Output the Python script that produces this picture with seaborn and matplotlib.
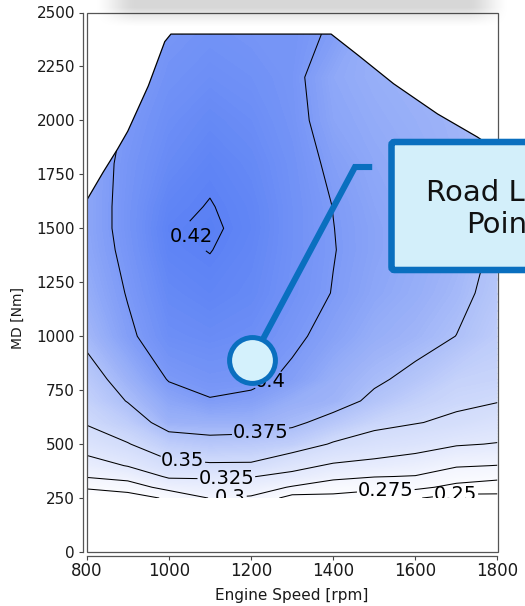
import numpy as np
import matplotlib
matplotlib.use("Agg")
import matplotlib.pyplot as plt
import seaborn as sns
from matplotlib.colors import LinearSegmentedColormap, Normalize
from matplotlib.patches import Polygon, FancyBboxPatch, Rectangle
from matplotlib.transforms import IdentityTransform

# ---------------------------------------------------------------- data
speed_rpm = [800, 900, 1000, 1100, 1200, 1300, 1400, 1500, 1600, 1700, 1800]
torque_nm = [250, 300, 350, 400, 500, 600, 700, 800, 1000, 1200, 1400,
             1500, 1600, 1800, 2000, 2200, 2400]

# brake efficiency along torque_nm, one list per engine speed
eff_800 = [0.253, 0.279, 0.302, 0.315, 0.336, 0.352, 0.359, 0.366, 0.380,
           0.387, 0.391, 0.392, 0.392, 0.392, 0.388, 0.382, 0.376]
eff_900 = [0.262, 0.287, 0.309, 0.326, 0.349, 0.363, 0.376, 0.384, 0.397,
           0.401, 0.404, 0.405, 0.405, 0.404, 0.402, 0.398, 0.394]
eff_1000 = [0.279, 0.309, 0.328, 0.345, 0.363, 0.384, 0.392, 0.401, 0.410,
            0.414, 0.418, 0.4192, 0.4175, 0.413, 0.410, 0.407, 0.404]
eff_1100 = [0.301, 0.314, 0.328, 0.347, 0.368, 0.385, 0.399, 0.405, 0.412,
            0.417, 0.4203, 0.4215, 0.4205, 0.418, 0.414, 0.410, 0.407]
eff_1200 = [0.297, 0.312, 0.326, 0.347, 0.366, 0.385, 0.396, 0.404, 0.410,
            0.414, 0.416, 0.417, 0.4165, 0.414, 0.411, 0.408, 0.405]
eff_1300 = [0.265, 0.298, 0.319, 0.332, 0.362, 0.379, 0.387, 0.397, 0.403,
            0.407, 0.408, 0.408, 0.408, 0.407, 0.405, 0.404, 0.405]
eff_1400 = [0.270, 0.283, 0.308, 0.322, 0.348, 0.368, 0.383, 0.386, 0.395,
            0.3995, 0.4005, 0.4002, 0.3998, 0.397, 0.393, 0.391, 0.398]
eff_1500 = [0.262, 0.281, 0.301, 0.318, 0.340, 0.356, 0.371, 0.378, 0.387,
            0.392, 0.394, 0.394, 0.393, 0.391, 0.389, 0.387, 0.385]
eff_1600 = [0.252, 0.281, 0.299, 0.312, 0.335, 0.351, 0.360, 0.370, 0.382,
            0.387, 0.389, 0.389, 0.389, 0.388, 0.386, 0.384, 0.382]
eff_1700 = [0.240, 0.268, 0.287, 0.302, 0.327, 0.346, 0.354, 0.359, 0.3748,
            0.380, 0.383, 0.384, 0.384, 0.384, 0.383, 0.380, 0.378]
eff_1800 = [0.243, 0.261, 0.282, 0.2995, 0.324, 0.338, 0.351, 0.357, 0.364,
            0.369, 0.372, 0.373, 0.374, 0.376, 0.377, 0.377, 0.376]

# full-load (maximum torque) curve
full_load_rpm = [800, 840, 875, 900, 950, 990, 1005, 1395, 1462, 1547, 1654, 1751, 1800]
full_load_nm = [1630, 1760, 1867, 1950, 2160, 2365, 2400, 2400, 2300, 2170, 2030, 1923, 1860]

# iso-efficiency lines that get drawn and labelled
contour_levels = [0.25, 0.275, 0.3, 0.325, 0.35, 0.375, 0.4, 0.42]

# operating point
road_load_rpm = [1202]
road_load_nm = [890]
callout_text = "Road Load\nPoint"

x_ticks = [800, 1000, 1200, 1400, 1600, 1800]
y_ticks = [0, 250, 500, 750, 1000, 1250, 1500, 1750, 2000, 2250, 2500]

# ---------------------------------------------------------------- style
sns.set_theme(style="white")
plt.rcParams["font.family"] = ["DejaVu Sans"]

W_PX, H_PX, DPI = 525, 606, 100
fig = plt.figure(figsize=(W_PX / DPI, H_PX / DPI), dpi=DPI)
fig.patch.set_facecolor("white")

ax_l, ax_r, ax_t, ax_b = 86.7, 497.5, 12.5, 552.0
ax = fig.add_axes([ax_l / W_PX, (H_PX - ax_b) / H_PX,
                   (ax_r - ax_l) / W_PX, (ax_b - ax_t) / H_PX])
ax.set_facecolor("white")

eff = np.column_stack([eff_800, eff_900, eff_1000, eff_1100, eff_1200, eff_1300,
                       eff_1400, eff_1500, eff_1600, eff_1700, eff_1800])
S, T = np.meshgrid(speed_rpm, torque_nm)

# white -> blue efficiency colour scale
vmin, vmax = 0.26, 0.425
stops = [(0.26, (255, 255, 255)), (0.30, (243, 245, 254)), (0.35, (210, 220, 251)),
         (0.375, (174, 192, 249)), (0.40, (126, 155, 247)), (0.425, (84, 124, 244))]
cmap = LinearSegmentedColormap.from_list(
    "eff_blue", [((v - vmin) / (vmax - vmin), tuple(c / 255 for c in rgb)) for v, rgb in stops])
norm = Normalize(vmin, vmax)

# measured area: from the lowest torque row up to the full-load curve
clip_xy = np.column_stack([[speed_rpm[0]] + full_load_rpm + [speed_rpm[-1]],
                           [torque_nm[0]] + full_load_nm + [torque_nm[0]]])
clip_patch = Polygon(clip_xy, closed=True, transform=ax.transData)

fill = ax.contourf(S, T, eff, levels=np.linspace(0.23, 0.43, 201),
                   cmap=cmap, norm=norm, antialiased=False, zorder=1)
fill.set_clip_path(clip_patch)

lines = ax.contour(S, T, eff, levels=contour_levels, colors="black",
                   linewidths=0.75, zorder=2)
lines.set_clip_path(clip_patch)

label_spots = [(1697, 275), (1528, 285), (1150, 248), (1140, 340),
               (1032, 400), (1225, 540), (1252, 770), (1030, 1430)]
labels = ax.clabel(lines, contour_levels, manual=label_spots, fmt="%g",
                   fontsize=14, inline=True, inline_spacing=1, zorder=4)
for t in labels:
    t.set_rotation(0)
    t.set_color("black")

# nothing is measured below the lowest torque row: blank that band
ax.add_patch(Rectangle((speed_rpm[0], 0), speed_rpm[-1] - speed_rpm[0], torque_nm[0],
                       facecolor="white", edgecolor="none", zorder=4.5))

sns.lineplot(x=full_load_rpm, y=full_load_nm, sort=False, estimator=None,
             color="black", linewidth=0.9, ax=ax, zorder=3)

# leader from the operating point to the callout box
callout_blue = "#0a6fbf"
elbow = (1453, 1784)
stub_end = (1495, 1784)
ax.plot([road_load_rpm[0], elbow[0], stub_end[0]],
        [road_load_nm[0], elbow[1], stub_end[1]],
        color=callout_blue, linewidth=4.4, solid_joinstyle="miter",
        solid_capstyle="butt", zorder=5, clip_on=False)
sns.scatterplot(x=road_load_rpm, y=road_load_nm, s=1089, color="#d4f1fc",
                edgecolor=callout_blue, linewidth=3.6, zorder=6, ax=ax, legend=False)

# axes, ticks, frame
ax.set_xlim(800, 1800)
ax.set_ylim(0, 2500)
ax.set_xticks(x_ticks)
ax.set_yticks(y_ticks)
ax.tick_params(axis="x", labelsize=12, pad=1.5)
ax.tick_params(axis="y", labelsize=11, pad=2.5)
ax.tick_params(axis="both", which="major", direction="out", length=3, width=0.8,
               color="#444444", labelcolor="#1a1a1a", bottom=True, left=True)
for side in ("top", "right"):
    ax.spines[side].set_visible(False)
for side in ("left", "bottom"):
    ax.spines[side].set_position(("outward", 3))
    ax.spines[side].set_color("#555555")
    ax.spines[side].set_linewidth(0.9)
ax.add_patch(Rectangle((0, 0), 1, 1, transform=ax.transAxes, fill=False,
                       edgecolor="#555555", linewidth=0.9, clip_on=False, zorder=7))

ax.set_xlabel("Engine Speed [rpm]", fontsize=11, color="#1a1a1a")
ax.set_ylabel("MD [Nm]", fontsize=10, color="#1a1a1a")
ax.xaxis.set_label_coords(0.5, -0.066)
ax.yaxis.set_label_coords(-0.15, 0.434)

# callout box (runs past the right edge)
box = FancyBboxPatch((391.5, H_PX - 270), 230, 128,
                     boxstyle="round,pad=0,rounding_size=3",
                     transform=IdentityTransform(), facecolor="#d3effa",
                     edgecolor=callout_blue, linewidth=4.7, zorder=10)
fig.add_artist(box)
fig.text(502 / W_PX, 1 - 209 / H_PX, callout_text, ha="center", va="center",
         multialignment="center", fontsize=21, linespacing=1.2, color="#111111",
         zorder=11)

# soft grey shadow strip along the top edge
sh_h, sh_w, sh_x0 = 30, 420, 92
yy = np.arange(sh_h)[:, None]
xx = np.arange(sh_w)[None, :]
a_v = np.clip((27 - yy) / 20.0, 0, 1) ** 1.3
a_h = np.clip(np.minimum(xx, sh_w - 1 - xx) / 45.0, 0, 1)
a_h = a_h * a_h * (3 - 2 * a_h)
shadow = np.zeros((sh_h, sh_w, 4))
shadow[..., 3] = 0.16 * a_v * a_h
fig.figimage(shadow, xo=sh_x0, yo=H_PX - sh_h, origin="upper", zorder=8)

fig.savefig("out.png", dpi=DPI, facecolor="white")
